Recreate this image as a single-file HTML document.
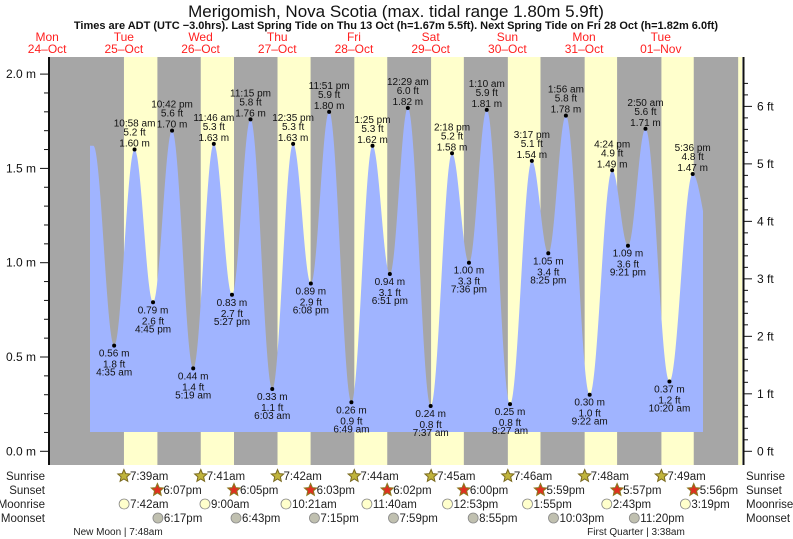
<!DOCTYPE html>
<html><head><meta charset="utf-8"><style>
body{margin:0;background:#fff;}
svg{display:block;font-family:"Liberation Sans",sans-serif;}
</style></head><body>
<svg id="chart" width="793" height="539" viewBox="0 0 793 539">
<text x="396" y="17" text-anchor="middle" font-size="17" fill="#111">Merigomish, Nova Scotia (max. tidal range 1.80m 5.9ft)</text>
<text x="396" y="29" text-anchor="middle" font-size="11" font-weight="bold" fill="#111">Times are ADT (UTC −3.0hrs). Last Spring Tide on Thu 13 Oct (h=1.67m 5.5ft). Next Spring Tide on Fri 28 Oct (h=1.82m 6.0ft)</text>
<g id="bg"></g>
<g id="tide"></g>
<g id="axes"></g>
<g id="labels"></g>
<g id="astro"></g>
</svg>
<script>
// ---- data ----
const dayNames = ["Mon","Tue","Wed","Thu","Fri","Sat","Sun","Mon","Tue"];
const dayDates = ["24\u2013Oct","25\u2013Oct","26\u2013Oct","27\u2013Oct","28\u2013Oct","29\u2013Oct","30\u2013Oct","31\u2013Oct","01\u2013Nov"];
const tideTimes = ["","4:35 am","10:58 am","4:45 pm","10:42 pm","5:19 am","11:46 am","5:27 pm","11:15 pm","6:03 am","12:35 pm","6:08 pm","11:51 pm","6:49 am","1:25 pm","6:51 pm","12:29 am","7:37 am","2:18 pm","7:36 pm","1:10 am","8:27 am","3:17 pm","8:25 pm","1:56 am","9:22 am","4:24 pm","9:21 pm","2:50 am","10:20 am","5:36 pm",""];
const tideHours = [22.08,28.58,34.97,40.75,46.7,53.32,59.77,65.45,71.25,78.05,84.58,90.13,95.85,102.82,109.42,114.85,120.48,127.62,134.3,139.6,145.17,152.45,159.28,164.42,169.93,177.37,184.4,189.35,194.83,202.33,209.6,215.6];
const tideHeights = [1.62,0.56,1.60,0.79,1.70,0.44,1.63,0.83,1.76,0.33,1.63,0.89,1.80,0.26,1.62,0.94,1.82,0.24,1.58,1.00,1.81,0.25,1.54,1.05,1.78,0.30,1.49,1.09,1.71,0.37,1.47,1.12];
const sunrise = ["7:39am","7:41am","7:42am","7:44am","7:45am","7:46am","7:48am","7:49am"];
const sunset = ["6:07pm","6:05pm","6:03pm","6:02pm","6:00pm","5:59pm","5:57pm","5:56pm"];
const moonrise = ["7:42am","9:00am","10:21am","11:40am","12:53pm","1:55pm","2:43pm","3:19pm"];
const moonset = ["6:17pm","6:43pm","7:15pm","7:59pm","8:55pm","10:03pm","11:20pm"];
const mTicks = [0,0.5,1.0,1.5,2.0];
const ftTicks = [0,1,2,3,4,5,6];

// ---- scales ----
const X0=99.5, PXH=3.196, PL=49, PR=742, PT=57, PB=465, FILLB=432, CL=90, CR=703;
function xH(h){return X0+(h-24)*PXH;}
function yM(m){return 451.3-188.6*m;}
function parseT(s){const m=s.match(/(\d+):(\d+)\s*(am|pm)/);let h=+m[1]%12;if(m[3]=="pm")h+=12;return h+(+m[2])/60;}
const NS="http://www.w3.org/2000/svg";
function mk(tag,attrs,parent,txt){const e=document.createElementNS(NS,tag);for(const k in attrs)e.setAttribute(k,attrs[k]);if(txt!==undefined)e.textContent=txt;parent.appendChild(e);return e;}

const bg=document.getElementById('bg');
let r=mk('rect',{x:PL,y:PT,width:PR-PL,height:PB-PT,fill:'#a6a6a6'},bg);


for(let d=0;d<9;d++){
  const base=24*(d+1);
  const sr= d<8?parseT(sunrise[d]):7.83;
  const ss= d<8?parseT(sunset[d]):17.9;
  let x1=xH(base+sr), x2=Math.min(xH(base+ss),PR);
  const b=mk('rect',{x:x1,y:PT,width:Math.max(0,x2-x1),height:PB-PT,fill:'#ffffcc'},bg);
  
  
}
// day labels
for(let d=0;d<9;d++){
  const x=xH(24*d+7.62);
  const t1=mk('text',{x:x,y:41,'text-anchor':'middle','font-size':12,fill:'#ff2020'},bg,dayNames[d]);
  
  
  const t2=mk('text',{x:x,y:53,'text-anchor':'middle','font-size':12,fill:'#ff2020'},bg,dayDates[d]);
  
  
}
// tide curve
const tg=document.getElementById('tide');
function hAt(t){
  if(t<=tideHours[0])return tideHeights[0];
  for(let i=0;i<tideHours.length-1;i++){
    if(t>=tideHours[i]&&t<=tideHours[i+1]){
      const f=(t-tideHours[i])/(tideHours[i+1]-tideHours[i]);
      return tideHeights[i]+(tideHeights[i+1]-tideHeights[i])*(1-Math.cos(Math.PI*f))/2;
    }
  }
  return tideHeights[tideHeights.length-1];
}
let pts=`M${CL},${FILLB}`;
for(let x=CL;x<=CR;x+=0.5){const t=24+(x-X0)/PXH;pts+=` L${x},${yM(hAt(t)).toFixed(1)}`;}
pts+=` L${CR},${FILLB} Z`;
const area=mk('path',{d:pts,fill:'#a0b4ff'},tg);



// axes
const ax=document.getElementById('axes');
mk('line',{x1:PL,y1:PT,x2:PL,y2:PB,stroke:'#111','stroke-width':2},ax);
mk('line',{x1:743.5,y1:PT,x2:743.5,y2:PB,stroke:'#111','stroke-width':2},ax);
for(let i=0;i<=20;i++){const y=yM(i/10);mk('line',{x1:i%5==0?40:44,y1:y,x2:PL,y2:y,stroke:'#111','stroke-width':1},ax);}
mTicks.forEach(m=>{const t=mk('text',{x:36,y:yM(m)+4,'text-anchor':'end','font-size':12,fill:'#111'},ax,m.toFixed(1)+' m');
  
  });
for(let i=0;i<=32;i++){const y=yM(i*0.3048/5);if(y<PT)break;mk('line',{x1:743,y1:y,x2:i%5==0?752:748,y2:y,stroke:'#111','stroke-width':1},ax);}
ftTicks.forEach(f=>{const t=mk('text',{x:757,y:yM(f*0.3048)+4,'font-size':12,fill:'#111'},ax,f+' ft');
  
  });

// tide labels
const lg=document.getElementById('labels');
for(let i=0;i<tideHours.length;i++){
  if(!tideTimes[i])continue;
  const x=xH(tideHours[i]), y=yM(tideHeights[i]);
  const hi = (i==0||tideHeights[i]>tideHeights[i-1]);
  const g=mk('g',{},lg);
  
  
  mk('circle',{cx:x,cy:y,r:2,fill:'#000'},g);
  const ms=tideHeights[i].toFixed(2)+' m', fs=(tideHeights[i]*3.28084).toFixed(1)+' ft';
  const lines = hi?[[tideTimes[i],-23],[fs,-14],[ms,-3]]:[[ms,11],[fs,22],[tideTimes[i],30]];
  lines.forEach(l=>mk('text',{x:x,y:y+l[1],'text-anchor':'middle','font-size':10,fill:'#111'},g,l[0]));
}

// astro rows
const as=document.getElementById('astro');
const rows=[["Sunrise",480],["Sunset",494],["Moonrise",508],["Moonset",522]];
rows.forEach(rw=>{
  let t=mk('text',{x:45,y:rw[1],'text-anchor':'end','font-size':11.5,fill:'#222'},as,rw[0]);
  
  
  t=mk('text',{x:746,y:rw[1],'font-size':11.5,fill:'#222'},as,rw[0]);
  
  
});
function star(cx,cy,fill,stroke){let p='';for(let k=0;k<10;k++){const a=-Math.PI/2+k*Math.PI/5;const rr=k%2?3:6.5;p+=(k?'L':'M')+(cx+rr*Math.cos(a)).toFixed(1)+','+(cy+rr*Math.sin(a)).toFixed(1);}return mk('path',{d:p+'Z',fill:fill,stroke:stroke,'stroke-width':1},as);}
function entry(list,i,cy,kind){
  const x=xH(24*(i+1)+parseT(list[i]));
  if(kind=='sunrise'){star(x,cy-4,'#c0b43c','#7a6a20');}
  else if(kind=='sunset'){star(x,cy-4,'#e03020','#8a7a20');}
  else {
    const c=mk('circle',{cx:x,cy:cy-4,r:5,fill:kind=='moonrise'?'#ffffcc':'#c0c0b0',stroke:'#888','stroke-width':0.8},as);
    
    
  }
  const t=mk('text',{x:x+6,y:cy,'font-size':11.5,fill:'#222'},as,list[i]);
  
  
}
sunrise.forEach((_,i)=>entry(sunrise,i,480,'sunrise'));
sunset.forEach((_,i)=>entry(sunset,i,494,'sunset'));
moonrise.forEach((_,i)=>entry(moonrise,i,508,'moonrise'));
moonset.forEach((_,i)=>entry(moonset,i,522,'moonset'));
let mp=mk('text',{x:118,y:535,'text-anchor':'middle','font-size':10,fill:'#222'},as,'New Moon | 7:48am');


mp=mk('text',{x:636,y:535,'text-anchor':'middle','font-size':10,fill:'#222'},as,'First Quarter | 3:38am');


</script>
</body></html>
